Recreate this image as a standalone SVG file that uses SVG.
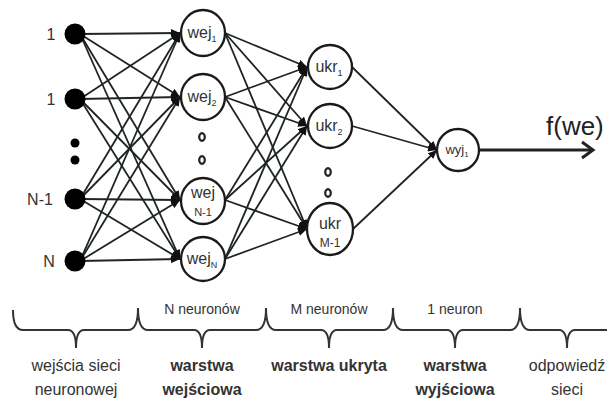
<svg xmlns="http://www.w3.org/2000/svg" width="607" height="401" viewBox="0 0 607 401">
<style>
.e{stroke:#1f2424;stroke-width:1.8;fill:none;marker-end:url(#ah)}
.n{fill:#fff;stroke:#1a1a1a;stroke-width:2.3}
.t{font-family:"Liberation Sans",Arial,sans-serif;fill:#333;text-anchor:middle}
.lbl{font-size:16px}
.sub{font-size:9px}
.hollow{fill:none;stroke:#222;stroke-width:2.2}
</style>
<defs>
<marker id="ah" markerUnits="userSpaceOnUse" markerWidth="10" markerHeight="8" refX="9" refY="4" orient="auto">
<path d="M0,0 L9,4 L0,8 Z" fill="#111"/>
</marker>
</defs>
<rect width="607" height="401" fill="#fff"/>
<g id="connectors">
<path class="e" d="M80,34 L180,33"/>
<path class="e" d="M80,34 L180,97"/>
<path class="e" d="M80,34 L180,200"/>
<path class="e" d="M80,34 L180,259"/>
<path class="e" d="M80,99 L180,33"/>
<path class="e" d="M80,99 L180,97"/>
<path class="e" d="M80,99 L180,200"/>
<path class="e" d="M80,99 L180,259"/>
<path class="e" d="M80,199 L180,33"/>
<path class="e" d="M80,199 L180,97"/>
<path class="e" d="M80,199 L180,200"/>
<path class="e" d="M80,199 L180,259"/>
<path class="e" d="M80,261 L180,33"/>
<path class="e" d="M80,261 L180,97"/>
<path class="e" d="M80,261 L180,200"/>
<path class="e" d="M80,261 L180,259"/>
<path class="e" d="M225,33 L307,67"/>
<path class="e" d="M225,33 L307,126"/>
<path class="e" d="M225,33 L307,229"/>
<path class="e" d="M225,97 L307,67"/>
<path class="e" d="M225,97 L307,126"/>
<path class="e" d="M225,97 L307,229"/>
<path class="e" d="M225,200 L307,67"/>
<path class="e" d="M225,200 L307,126"/>
<path class="e" d="M225,200 L307,229"/>
<path class="e" d="M225,259 L307,67"/>
<path class="e" d="M225,259 L307,126"/>
<path class="e" d="M225,259 L307,229"/>
<path class="e" d="M352,67 L437,150"/>
<path class="e" d="M352,126 L437,150"/>
<path class="e" d="M353,229 L437,150"/>
<path d="M479,150 L593,150" stroke="#222" stroke-width="3" fill="none"/>
<path d="M582,142 L593,150 L582,158" stroke="#222" stroke-width="3" fill="none"/>
</g>
<g id="inputs">
<g id="in1"><circle cx="75" cy="34" r="10.5" fill="#000"/><text class="t lbl" x="51" y="40">1</text></g>
<g id="in2"><circle cx="75" cy="99" r="10.5" fill="#000"/><text class="t lbl" x="51" y="105">1</text></g>
<g id="in-dots"><circle cx="75" cy="143" r="4.5" fill="#000"/><circle cx="75" cy="160" r="4.5" fill="#000"/></g>
<g id="inN1"><circle cx="75" cy="199" r="10.5" fill="#000"/><text class="t lbl" x="40" y="205">N-1</text></g>
<g id="inN"><circle cx="75" cy="261" r="10.5" fill="#000"/><text class="t lbl" x="49" y="267">N</text></g>
</g>
<g id="wej1"><ellipse class="n" cx="203" cy="33" rx="22" ry="23"/><text class="t lbl" x="202" y="38">wej<tspan class="sub" dy="4">1</tspan></text></g>
<g id="wej2"><ellipse class="n" cx="203" cy="97" rx="22" ry="23"/><text class="t lbl" x="202" y="102">wej<tspan class="sub" dy="4">2</tspan></text></g>
<g id="wej-dots"><ellipse class="hollow" cx="202" cy="137" rx="2.8" ry="3.8"/><ellipse class="hollow" cx="202" cy="160" rx="2.8" ry="3.8"/></g>
<g id="wejN1"><ellipse class="n" cx="203" cy="201" rx="22" ry="23"/><text class="t lbl" x="203" y="198">wej</text><text class="t" x="203" y="216" font-size="11">N-1</text></g>
<g id="wejN"><ellipse class="n" cx="203" cy="259" rx="22" ry="22"/><text class="t lbl" x="202" y="264">wej<tspan class="sub" dy="4">N</tspan></text></g>
<g id="ukr1"><ellipse class="n" cx="330" cy="67" rx="22" ry="22"/><text class="t lbl" x="329" y="72">ukr<tspan class="sub" dy="4">1</tspan></text></g>
<g id="ukr2"><ellipse class="n" cx="330" cy="126" rx="22" ry="22"/><text class="t lbl" x="329" y="131">ukr<tspan class="sub" dy="4">2</tspan></text></g>
<g id="ukr-dots"><ellipse class="hollow" cx="328" cy="172" rx="2.8" ry="3.8"/><ellipse class="hollow" cx="328" cy="193" rx="2.8" ry="3.8"/></g>
<g id="ukrM1"><ellipse class="n" cx="330" cy="229" rx="23" ry="26"/><text class="t lbl" x="330" y="229">ukr</text><text class="t" x="330" y="247" font-size="12">M-1</text></g>
<g id="wyj1"><circle class="n" cx="458" cy="150" r="21"/><text class="t" x="457" y="154" font-size="13">wyj<tspan font-size="8" dy="3">1</tspan></text></g>
<text x="546" y="135" font-family="Liberation Sans, Arial, sans-serif" font-size="26" fill="#222">f(we)</text>
<g id="brace">
<path d="M13,310 Q13,330 23,330 H68 Q76,330 76,348 Q76,330 84,330 H128 Q138,330 138,308 Q138,330 148,330 H194 Q202,330 202,348 Q202,330 210,330 H256 Q266,330 266,308 Q266,330 276,330 H321 Q329,330 329,348 Q329,330 337,330 H383 Q393,330 393,308 Q393,330 403,330 H447 Q455,330 455,348 Q455,330 463,330 H510 Q520,330 520,308 Q520,330 530,330 H559 Q567,330 567,348 Q567,330 575,330 H607" stroke="#333" stroke-width="2" fill="none"/>
</g>
<g id="labels">
<text class="t" x="202" y="314" font-size="14">N neuronów</text>
<text class="t" x="329" y="314" font-size="14">M neuronów</text>
<text class="t" x="455" y="314" font-size="14">1 neuron</text>
<text class="t" x="76" y="371" font-size="16">wejścia sieci</text>
<text class="t" x="76" y="395" font-size="16">neuronowej</text>
<text class="t" x="202" y="371" font-size="16" font-weight="bold">warstwa</text>
<text class="t" x="202" y="395" font-size="16" font-weight="bold">wejściowa</text>
<text class="t" x="329" y="371" font-size="16" font-weight="bold">warstwa ukryta</text>
<text class="t" x="455" y="371" font-size="16" font-weight="bold">warstwa</text>
<text class="t" x="455" y="395" font-size="16" font-weight="bold">wyjściowa</text>
<text class="t" x="567" y="371" font-size="16">odpowiedź</text>
<text class="t" x="567" y="395" font-size="16">sieci</text>
</g>
</svg>
